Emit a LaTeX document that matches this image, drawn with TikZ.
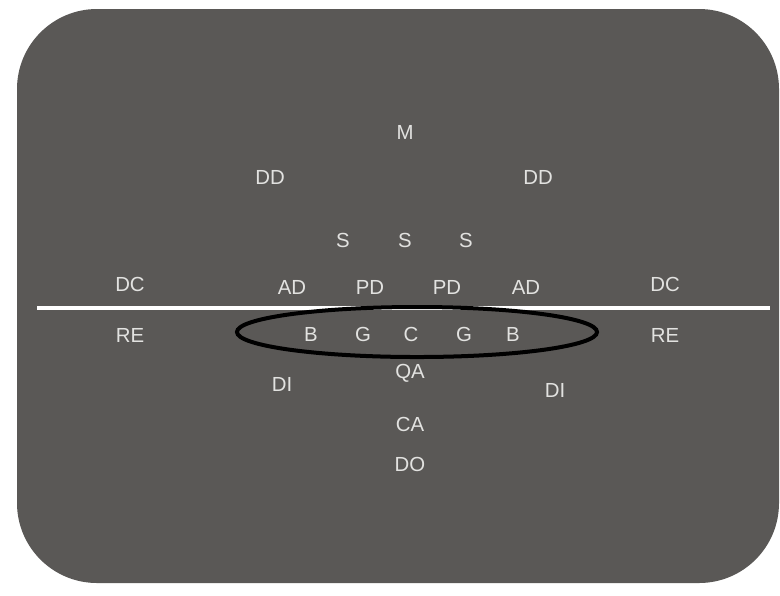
\documentclass[tikz,border=0pt]{standalone}
\usepackage{fontspec}
\setmainfont{Liberation Sans}
\usetikzlibrary{shapes.geometric, positioning}
\definecolor{cField}{HTML}{5A5856}
\definecolor{cText}{HTML}{E2E2E0}

\begin{document}
\begin{tikzpicture}[
  x=0.025cm, y=-0.025cm,
  player/.style={text=cText, font=\fontsize{14.5}{16}\selectfont, inner sep=1pt},
  oline/.style={ellipse, draw=black, line width=1mm, minimum width=9cm, minimum height=1.25cm, inner sep=0}
]
\useasboundingbox (0,0) rectangle (780,595);
\fill[white] (0,0) rectangle (780,595);
\fill[cField, rounded corners=2cm] (17,9) rectangle (779,583);

% defense
\node[player] (m) at (405,132) {M};
\node[player] (dd1) at (270,177) {DD};
\node[player] (dd2) at (538,177) {DD};
\foreach \x/\n in {343/1, 405/2, 466/3} {\node[player] (s\n) at (\x,240) {S};}
\node[player] (dc1) at (130,284) {DC};
\node[player] (ad1) at (292,287) {AD};
\node[player] (pd1) at (370,287) {PD};
\node[player] (pd2) at (447,287) {PD};
\node[player] (ad2) at (526,287) {AD};
\node[player] (dc2) at (665,284) {DC};

% line of scrimmage
\coordinate (los1) at (37,308);
\coordinate (los2) at (770,308);
\draw[white, line width=1.1mm] (los1) -- (los2);

% offense
\node[player] (re1) at (130,335) {RE};
\node[player] (b1) at (311,334) {B};
\node[player] (g1) at (363,334) {G};
\node[player] (c) at (411,334) {C};
\node[player] (g2) at (464,334) {G};
\node[player] (b2) at (513,334) {B};
\node[player] (re2) at (665,335) {RE};
\node[oline] (ol) at (417,332) {};
\node[player] (di1) at (282,384) {DI};
\node[player] (qa) at (410,373) {QA};
\node[player] (di2) at (555,390) {DI};
\node[player] (ca) at (410,424) {CA};
\node[player] (do) at (410,464) {DO};
\end{tikzpicture}
\end{document}
